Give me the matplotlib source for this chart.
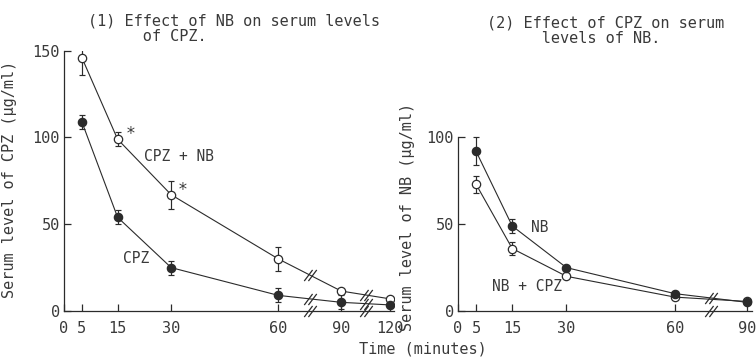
import numpy as np
import matplotlib
matplotlib.use("Agg")
from matplotlib import pyplot as plt
from matplotlib.path import Path

plt.rcParams['font.family'] = ['DejaVu Sans Mono', 'DejaVu Sans']
plt.rcParams['font.size'] = 11

INK = '#2b2b2b'
TXT = '#3a3a3a'

# panel 1: serum CPZ
t1 = [5, 15, 30, 60, 90, 120]
cpz_nb = [146, 99, 67, 30, 11.5, 7]
cpz_nb_err = [10, 4, 8, 7, 0, 0]
cpz = [109, 54, 25, 9, 5, 3.5]
cpz_err = [4, 4, 4, 4, 4, 0]
ticks1 = [0, 5, 15, 30, 60, 90, 120]

# panel 2: serum NB
t2 = [5, 15, 30, 60, 90]
nb = [92, 49, 25, 10, 5]
nb_err = [8, 4, 0, 0, 0]
nb_cpz = [73, 36, 20, 8, 5.5]
nb_cpz_err = [5, 4, 0, 0, 0]
ticks2 = [0, 5, 15, 30, 60, 90]

# broken time axes: piecewise linear scale
k1_t = [-10, 0, 60, 90, 120, 140]
k1_p = [-36, 0, 215, 278, 327, 359]
k2_t = [-10, 0, 60, 90, 110]
k2_p = [-36, 0, 216, 288, 336]


def make_scale(kt, kp):
    fwd = lambda x: np.interp(x, kt, kp)
    inv = lambda p: np.interp(p, kp, kt)
    return fwd, inv


# two slanted strokes for the break marks
brk = Path([(-4.5, -4), (1.5, 4), (-1.5, -4), (4.5, 4)],
           [Path.MOVETO, Path.LINETO, Path.MOVETO, Path.LINETO])

fig = plt.figure(figsize=(7.56, 3.58), dpi=100)
ax1 = fig.add_axes([64 / 756, 1 - 311 / 358, 330 / 756, 260.3 / 358])
ax2 = fig.add_axes([458 / 756, 1 - 311 / 358, 294 / 756, 260.3 / 358])


def style(ax, ticks, xlim, top):
    ax.set_ylim(0, 150)
    ax.set_xlim(*xlim)
    ax.set_xticks(ticks)
    ax.set_xticklabels([str(v) for v in ticks])
    ax.set_yticks([v for v in [0, 50, 100, 150] if v <= top])
    for s in ['top', 'right']:
        ax.spines[s].set_visible(False)
    ax.spines['left'].set_bounds(0, top)
    for s in ['left', 'bottom']:
        ax.spines[s].set_color(INK)
        ax.spines[s].set_linewidth(0.9)
    ax.tick_params(direction='in', length=5, width=0.9, color=INK,
                   labelcolor=TXT, labelsize=11)
    ax.tick_params(axis='x', pad=7)
    ax.tick_params(axis='y', pad=3)


def series(ax, t, y, e, filled):
    ax.errorbar(t, y, yerr=e, fmt='none', ecolor=INK, elinewidth=0.85,
                capsize=2.5, capthick=0.85, zorder=2)
    ax.plot(t, y, color=INK, lw=0.8, marker='o', ms=6,
            mfc=INK if filled else 'white', mec=INK, mew=0.9, zorder=3)


def breaks(ax, t, ys, at):
    for b in at:
        for y in ys:
            ax.plot([b], [np.interp(b, t, y)], marker=brk, ms=9,
                    color=INK, mew=0.9, ls='none', zorder=4)
        ax.plot([b], [0], marker=brk, ms=9, color=INK, mew=0.9,
                ls='none', clip_on=False, zorder=4)


f1, i1 = make_scale(k1_t, k1_p)
ax1.set_xscale('function', functions=(f1, i1))
style(ax1, ticks1, (0, 122.5), 150)
series(ax1, t1, cpz_nb, cpz_nb_err, False)
series(ax1, t1, cpz, cpz_err, True)
breaks(ax1, t1, [cpz_nb, cpz], [75, 105])
ax1.text(22.3, 89, 'CPZ + NB', va='center', ha='left', color=TXT, fontsize=10.5)
ax1.text(16.5, 30.5, 'CPZ', va='center', ha='left', color=TXT, fontsize=10.5)
ax1.text(17.3, 102, '*', va='center', ha='left', color=TXT, fontsize=12)
ax1.text(31.8, 69.5, '*', va='center', ha='left', color=TXT, fontsize=12)
ax1.set_ylabel('Serum level of CPZ (μg/ml)', color=TXT)
ax1.yaxis.set_label_coords(-0.142, 0.505)

f2, i2 = make_scale(k2_t, k2_p)
ax2.set_xscale('function', functions=(f2, i2))
style(ax2, ticks2, (0, 92), 100)
series(ax2, t2, nb_cpz, nb_cpz_err, False)
series(ax2, t2, nb, nb_err, True)
breaks(ax2, t2, [nb], [75])
ax2.text(20.3, 48, 'NB', va='center', ha='left', color=TXT, fontsize=10.5)
ax2.text(9.4, 14, 'NB + CPZ', va='center', ha='left', color=TXT, fontsize=10.5)
ax2.set_ylabel('Serum level of NB (μg/ml)', color=TXT)
ax2.yaxis.set_label_coords(-0.145, 0.36)

fig.text(88 / 756, 1 - 13 / 358,
         '(1) Effect of NB on serum levels\n      of CPZ.',
         ha='left', va='top', color=TXT, linespacing=1.1)
fig.text(487 / 756, 1 - 15 / 358,
         '(2) Effect of CPZ on serum\n      levels of NB.',
         ha='left', va='top', color=TXT, linespacing=1.1)
fig.text(423 / 756, 1 - 349 / 358, 'Time (minutes)', ha='center',
         va='center', color=TXT)

fig.savefig('out.png', dpi=100)
